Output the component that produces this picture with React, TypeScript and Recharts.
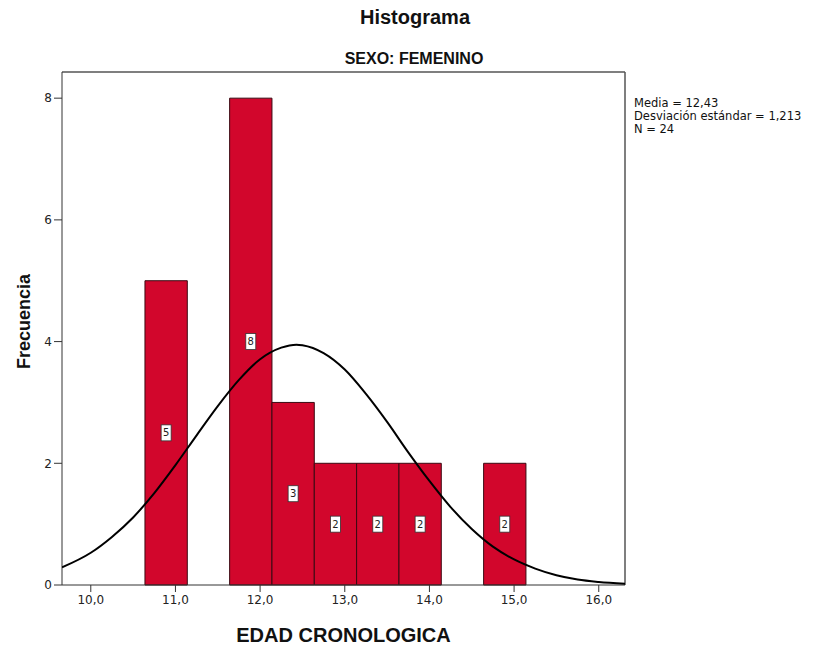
import React from 'react';
import { ComposedChart, Line, XAxis, YAxis, ReferenceArea, ReferenceLine } from 'recharts';

// histogram bins (edad cronológica, sexo femenino)
const binStarts = [10.64, 11.64, 12.14, 12.64, 13.14, 13.64, 14.64];
const binEnds = [11.14, 12.14, 12.64, 13.14, 13.64, 14.14, 15.14];
const binCounts = [5, 8, 3, 2, 2, 2, 2];

// normal curve
const curveX = [9.66, 10.0, 10.25, 10.5, 10.75, 11.0, 11.25, 11.5, 11.75, 12.0, 12.25, 12.43, 12.5, 12.75, 13.0, 13.25, 13.5, 13.75, 14.0, 14.25, 14.5, 14.75, 15.0, 15.25, 15.5, 15.75, 16.0, 16.31];
const curveY = [0.29, 0.53, 0.79, 1.11, 1.51, 1.97, 2.46, 2.94, 3.37, 3.71, 3.9, 3.95, 3.94, 3.81, 3.54, 3.14, 2.68, 2.18, 1.71, 1.28, 0.92, 0.63, 0.42, 0.27, 0.16, 0.09, 0.05, 0.02];

const xTicks = [10, 11, 12, 13, 14, 15, 16];
const yTicks = [0, 2, 4, 6, 8];
const legendLines = ['Media = 12,43', 'Desviación estándar = 1,213', 'N = 24'];

const X_MIN = 9.66;
const X_MAX = 16.31;
const Y_MAX = 8.43;

const curveData = curveX.map((x, i) => ({ x, y: curveY[i] }));

const bold = 'Arial, "Liberation Sans", sans-serif';
const plain = '"DejaVu Sans", Verdana, sans-serif';

const BinLabel = (props: any) => {
  const { viewBox, count } = props;
  if (!viewBox) return null;
  const cx = viewBox.x + viewBox.width / 2;
  const cy = viewBox.y + viewBox.height / 2;
  return (
    <g>
      <rect x={cx - 5} y={cy - 8} width={10} height={16} fill="#fff" stroke="#333" strokeWidth={0.8} />
      <text x={cx} y={cy + 3.5} textAnchor="middle" fontSize={10} fontFamily={plain} fill="#222">
        {count}
      </text>
    </g>
  );
};

export default function App() {
  return (
    <div style={{ position: 'absolute', left: 0, top: 0, width: 824, height: 647, background: '#fff' }}>
      <div style={{ position: 'absolute', left: 0, width: 830, top: 6, textAlign: 'center', fontFamily: bold, fontWeight: 'bold', fontSize: 20, color: '#111' }}>
        Histograma
      </div>
      <div style={{ position: 'absolute', left: 0, width: 828, top: 50, textAlign: 'center', fontFamily: bold, fontWeight: 'bold', fontSize: 16, color: '#111' }}>
        SEXO: FEMENINO
      </div>
      {/* bars + axes */}
      <div style={{ position: 'absolute', left: 0, top: 0, zIndex: 1 }}>
        <ComposedChart width={824} height={647} data={curveData} margin={{ top: 72, right: 199, left: 0, bottom: 32 }}>
          <XAxis
            dataKey="x"
            type="number"
            domain={[X_MIN, X_MAX]}
            allowDataOverflow
            ticks={xTicks}
            tickFormatter={(v: number) => v.toFixed(1).replace('.', ',')}
            height={30}
            tickSize={7}
            tickMargin={3}
            stroke="#333"
            tick={{ fill: '#222', fontSize: 12, fontFamily: plain }}
          />
          <YAxis
            type="number"
            domain={[0, Y_MAX]}
            allowDataOverflow
            ticks={yTicks}
            width={62}
            tickSize={8}
            tickMargin={2}
            stroke="#333"
            tick={{ fill: '#222', fontSize: 12, fontFamily: plain }}
          />
          {binStarts.map((s, i) => (
            <ReferenceArea
              key={i}
              x1={s}
              x2={binEnds[i]}
              y1={0}
              y2={binCounts[i]}
              fill="#d2062c"
              fillOpacity={1}
              stroke="#3a0a12"
              strokeWidth={1}
              label={<BinLabel count={binCounts[i]} />}
            />
          ))}
          <ReferenceLine y={Y_MAX} stroke="#555" strokeWidth={1.5} />
          <ReferenceLine x={X_MAX} stroke="#555" strokeWidth={1.5} />
        </ComposedChart>
      </div>
      {/* normal curve drawn on top of the bars, same plot box */}
      <div style={{ position: 'absolute', left: 0, top: 0, zIndex: 2, pointerEvents: 'none' }}>
        <ComposedChart width={824} height={647} data={curveData} margin={{ top: 72, right: 199, left: 62, bottom: 62 }}>
          <XAxis dataKey="x" type="number" domain={[X_MIN, X_MAX]} allowDataOverflow hide />
          <YAxis type="number" domain={[0, Y_MAX]} allowDataOverflow hide />
          <Line type="monotone" dataKey="y" stroke="#000" strokeWidth={2} dot={false} isAnimationActive={false} />
        </ComposedChart>
      </div>
      <div style={{ position: 'absolute', left: 634, top: 97, fontFamily: plain, fontSize: 11.5, lineHeight: '13px', color: '#111' }}>
        {legendLines.map((t) => (
          <div key={t}>{t}</div>
        ))}
      </div>
      <div style={{ position: 'absolute', left: 3, top: 0, width: 44, height: 647, display: 'flex', alignItems: 'center', justifyContent: 'center' }}>
        <div style={{ transform: 'rotate(-90deg)', marginTop: -4, fontFamily: bold, fontWeight: 'bold', fontSize: 18, color: '#111', whiteSpace: 'nowrap' }}>
          Frecuencia
        </div>
      </div>
      <div style={{ position: 'absolute', left: 62, width: 563, top: 624, textAlign: 'center', fontFamily: bold, fontWeight: 'bold', fontSize: 20, color: '#111' }}>
        EDAD CRONOLOGICA
      </div>
    </div>
  );
}
